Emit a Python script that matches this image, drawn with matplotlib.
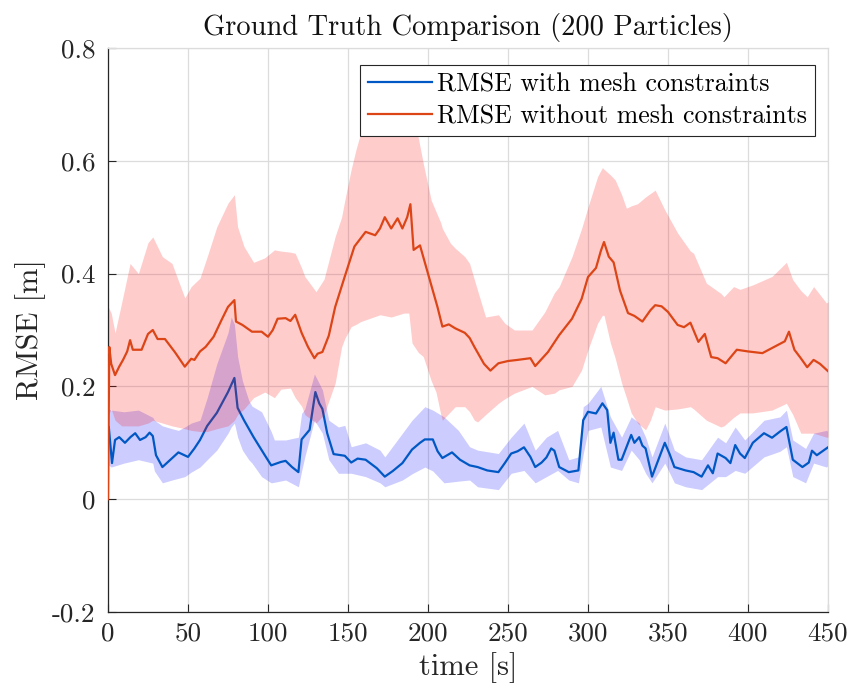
import numpy as np
import matplotlib
matplotlib.use("Agg")
import matplotlib.pyplot as plt

# ---------------- data ----------------
t_red = [0, 0.8, 2, 4.4, 7, 9.4, 12, 13.8, 15.5, 21, 25, 28, 31, 35.6, 42, 48, 52, 54, 57.5,
         61, 66, 71, 75, 79, 80, 84, 90, 96, 100, 103, 106, 111, 114, 117, 121, 125, 129,
         131, 134, 138, 142, 148, 154, 161, 167, 170, 173, 177, 181, 184, 187, 189, 191,
         195, 200, 206, 209, 213, 217, 223, 226, 229, 235, 239, 244, 250, 256, 264, 267,
         275, 282, 290, 296, 300, 305, 308, 310, 313, 316, 320, 325, 329, 334, 339, 342,
         346, 350, 356, 360, 364, 369, 373, 377, 381, 386, 393, 400, 409, 415, 419, 423,
         425.6, 429, 433, 437, 441, 445, 450]
red_mean = [0.0, 0.27, 0.24, 0.22, 0.235, 0.247, 0.262, 0.282, 0.265, 0.265, 0.293, 0.30,
            0.284, 0.284, 0.26, 0.235, 0.249, 0.247, 0.262, 0.27, 0.288, 0.318, 0.341, 0.353,
            0.315, 0.309, 0.297, 0.297, 0.288, 0.30, 0.32, 0.321, 0.316, 0.327, 0.295, 0.27,
            0.25, 0.258, 0.261, 0.29, 0.341, 0.395, 0.448, 0.474, 0.468, 0.48, 0.50, 0.48,
            0.498, 0.48, 0.50, 0.523, 0.442, 0.45, 0.40, 0.34, 0.306, 0.31, 0.303, 0.295,
            0.286, 0.27, 0.24, 0.228, 0.241, 0.245, 0.247, 0.25, 0.236, 0.261, 0.291, 0.32,
            0.355, 0.394, 0.41, 0.44, 0.456, 0.43, 0.42, 0.37, 0.33, 0.325, 0.315, 0.335,
            0.344, 0.342, 0.332, 0.309, 0.305, 0.313, 0.279, 0.293, 0.252, 0.25, 0.241,
            0.265, 0.262, 0.259, 0.268, 0.274, 0.28, 0.297, 0.265, 0.25, 0.234, 0.247,
            0.24, 0.227]

t_red_band = [0.3, 2, 4.4, 8.5, 13.8, 19, 25, 28, 34, 40, 48, 52, 57.5, 62, 68, 75, 79, 81,
              85, 91, 98, 104, 108, 114, 117, 121, 123, 130, 135, 142, 146, 148, 152, 155,
              158, 161, 170, 177, 185, 188, 190, 194, 197, 202, 205, 208, 209, 214, 217,
              223, 226, 229, 231, 236, 244, 248, 254, 265, 273, 279, 282, 290, 296, 300,
              306, 309, 310, 314, 317, 321, 324, 327, 331, 336, 339, 342, 348, 356, 364,
              366, 374, 383, 385, 391, 395, 403, 415, 424, 428, 433, 437, 441, 449, 450]
red_upper = [0.34, 0.33, 0.295, 0.348, 0.418, 0.40, 0.455, 0.465, 0.43, 0.418, 0.357, 0.377,
             0.392, 0.43, 0.483, 0.525, 0.54, 0.483, 0.448, 0.42, 0.428, 0.442, 0.44, 0.438,
             0.436, 0.41, 0.395, 0.368, 0.39, 0.466, 0.50, 0.53, 0.585, 0.62, 0.65, 0.67,
             0.70, 0.70, 0.70, 0.69, 0.68, 0.64, 0.596, 0.53, 0.51, 0.49, 0.48, 0.454, 0.445,
             0.43, 0.418, 0.389, 0.37, 0.323, 0.327, 0.312, 0.30, 0.30, 0.332, 0.366, 0.377,
             0.43, 0.48, 0.518, 0.572, 0.588, 0.585, 0.575, 0.566, 0.54, 0.516, 0.52, 0.524,
             0.536, 0.542, 0.548, 0.513, 0.472, 0.44, 0.436, 0.383, 0.365, 0.359, 0.377,
             0.372, 0.38, 0.395, 0.42, 0.389, 0.37, 0.359, 0.377, 0.348, 0.35]
red_lower = [0.15, 0.16, 0.14, 0.13, 0.13, 0.13, 0.135, 0.14, 0.135, 0.13, 0.125, 0.122,
             0.12, 0.12, 0.125, 0.13, 0.14, 0.15, 0.16, 0.18, 0.19, 0.18, 0.195, 0.197,
             0.18, 0.165, 0.15, 0.135, 0.15, 0.206, 0.27, 0.285, 0.306, 0.31, 0.315, 0.318,
             0.327, 0.323, 0.33, 0.33, 0.277, 0.26, 0.253, 0.21, 0.19, 0.15, 0.14, 0.155,
             0.164, 0.164, 0.155, 0.14, 0.137, 0.15, 0.17, 0.178, 0.188, 0.20, 0.185, 0.188,
             0.194, 0.20, 0.229, 0.265, 0.312, 0.326, 0.326, 0.277, 0.25, 0.206, 0.18, 0.153,
             0.135, 0.123, 0.14, 0.164, 0.158, 0.16, 0.164, 0.16, 0.14, 0.128, 0.13, 0.145,
             0.153, 0.153, 0.158, 0.17, 0.15, 0.117, 0.117, 0.117, 0.11, 0.11]

t_blue = [0.5, 2.5, 4.4, 7, 10.6, 14, 17, 20, 23.5, 26, 28, 30, 34, 39, 44, 50, 54, 57.5,
          62, 68, 75, 79, 81, 85, 91, 98, 102, 108, 111, 115, 119, 121, 126, 129.6, 132,
          134, 137, 141, 148, 152, 156, 161, 168, 173, 178, 184, 190, 195, 198, 203, 206,
          209, 215, 220, 226, 231, 237, 244, 248, 252, 256, 260, 264, 267, 271, 274, 277,
          279, 282, 288, 294, 297, 300, 305, 309, 312, 314, 316, 319, 321, 327, 329, 332,
          334, 336, 340, 344, 348, 351, 354, 361, 366, 371, 375, 378, 381, 386, 389, 392,
          395, 398, 403, 410, 415, 420, 424, 428, 434, 438, 440, 443, 449, 450]
blue_mean = [0.128, 0.064, 0.105, 0.11, 0.10, 0.11, 0.117, 0.105, 0.11, 0.118, 0.112, 0.078,
             0.057, 0.07, 0.083, 0.075, 0.09, 0.105, 0.13, 0.153, 0.19, 0.215, 0.162, 0.14,
             0.11, 0.078, 0.06, 0.066, 0.068, 0.057, 0.048, 0.106, 0.123, 0.19, 0.17, 0.16,
             0.117, 0.08, 0.077, 0.065, 0.072, 0.07, 0.055, 0.04, 0.05, 0.064, 0.088, 0.10,
             0.106, 0.106, 0.085, 0.073, 0.083, 0.07, 0.06, 0.057, 0.051, 0.048, 0.064,
             0.081, 0.085, 0.092, 0.075, 0.057, 0.065, 0.074, 0.09, 0.086, 0.057, 0.048,
             0.051, 0.14, 0.155, 0.152, 0.17, 0.158, 0.10, 0.118, 0.07, 0.07, 0.114, 0.10,
             0.11, 0.095, 0.09, 0.04, 0.07, 0.10, 0.08, 0.057, 0.051, 0.048, 0.04, 0.06,
             0.046, 0.081, 0.073, 0.064, 0.096, 0.081, 0.073, 0.10, 0.117, 0.109, 0.12,
             0.128, 0.07, 0.057, 0.065, 0.086, 0.078, 0.09, 0.092]

t_blue_band = [0.5, 2, 10, 19, 28, 29, 34, 40, 44, 48, 52, 57.5, 62, 68, 75, 77, 79, 81, 84,
               88, 90, 96, 102, 104, 111, 119, 121, 123, 129, 134, 138, 144, 148, 152, 161,
               170, 173, 184, 190, 198, 203, 210, 219, 226, 231, 244, 252, 260, 267, 274,
               281, 288, 294, 297, 300, 308, 314, 321, 327, 332, 336, 340, 348, 354, 361,
               371, 381, 386, 392, 398, 410, 420, 424, 428, 436, 441, 449, 450]
blue_upper = [0.16, 0.158, 0.155, 0.158, 0.145, 0.14, 0.13, 0.125, 0.122, 0.128, 0.135,
              0.14, 0.18, 0.24, 0.295, 0.323, 0.31, 0.253, 0.21, 0.175, 0.165, 0.155, 0.12,
              0.105, 0.105, 0.11, 0.152, 0.16, 0.222, 0.194, 0.14, 0.128, 0.131, 0.093, 0.10,
              0.087, 0.075, 0.117, 0.14, 0.164, 0.158, 0.146, 0.122, 0.093, 0.087, 0.081,
              0.11, 0.135, 0.087, 0.11, 0.122, 0.07, 0.075, 0.164, 0.17, 0.20, 0.146, 0.11,
              0.146, 0.135, 0.11, 0.075, 0.135, 0.087, 0.075, 0.07, 0.11, 0.10, 0.128,
              0.105, 0.14, 0.146, 0.158, 0.105, 0.09, 0.117, 0.122, 0.12]
blue_lower = [0.06, 0.057, 0.064, 0.07, 0.064, 0.05, 0.029, 0.034, 0.037, 0.04, 0.048,
              0.057, 0.07, 0.087, 0.117, 0.128, 0.135, 0.11, 0.087, 0.07, 0.064, 0.04, 0.029,
              0.03, 0.034, 0.022, 0.05, 0.075, 0.14, 0.117, 0.07, 0.046, 0.046, 0.046, 0.04,
              0.029, 0.022, 0.034, 0.045, 0.057, 0.05, 0.029, 0.032, 0.034, 0.022, 0.017,
              0.046, 0.051, 0.029, 0.04, 0.051, 0.034, 0.029, 0.08, 0.122, 0.128, 0.057,
              0.051, 0.087, 0.07, 0.046, 0.029, 0.064, 0.029, 0.022, 0.017, 0.04, 0.04,
              0.051, 0.046, 0.075, 0.085, 0.093, 0.04, 0.029, 0.064, 0.057, 0.06]

x_ticks = [0, 50, 100, 150, 200, 250, 300, 350, 400, 450]
y_ticks = [-0.2, 0, 0.2, 0.4, 0.6, 0.8]
y_tick_labels = ["-0.2", "0", "0.2", "0.4", "0.6", "0.8"]
legend_labels = ["RMSE with mesh constraints", "RMSE without mesh constraints"]
title_text = "Ground Truth Comparison (200 Particles)"
xlabel_text = "time [s]"
ylabel_text = "RMSE [m]"

# ---------------- style ----------------
plt.rcParams["font.family"] = ["cmr10", "DejaVu Serif"]
plt.rcParams["axes.unicode_minus"] = False
FS_TICK = 19.5
FS_TITLE = 20.5
FS_LABEL = 22
FS_LEG = 18.6

blue_line = "#0058c4"
red_line = "#dc4516"

fig = plt.figure(figsize=(8.49, 6.89), dpi=100)
ax = fig.add_axes([108 / 849, 77 / 689, 720 / 849, 564 / 689])

ax.fill_between(t_blue_band, blue_lower, blue_upper, color=(0, 0, 1), alpha=0.2,
                linewidth=0, zorder=2)
lb, = ax.plot(t_blue, blue_mean, color=blue_line, linewidth=1.6, zorder=3)
ax.fill_between(t_red_band, red_lower, red_upper, color=(1, 0, 0), alpha=0.2,
                linewidth=0, zorder=4)
lr, = ax.plot(t_red, red_mean, color=red_line, linewidth=1.6, zorder=5)

ax.set_xlim(0, 450)
ax.set_ylim(-0.2, 0.8)
ax.set_xticks(x_ticks)
ax.set_xticklabels([str(v) for v in x_ticks])
ax.set_yticks(y_ticks)
ax.set_yticklabels(y_tick_labels)
ax.tick_params(direction="in", length=6, width=0.8, labelsize=FS_TICK, colors="#262626",
               top=False, right=False)
ax.tick_params(axis="x", pad=7)
ax.tick_params(axis="y", pad=9)
for lab in ax.get_xticklabels() + ax.get_yticklabels():
    lab.set_color("#262626")

ax.grid(True, color="#dcdcdc", linewidth=0.9, zorder=0)
ax.set_axisbelow(True)
for side in ["left", "bottom"]:
    ax.spines[side].set_color("#262626")
    ax.spines[side].set_linewidth(0.9)
for side in ["top", "right"]:
    ax.spines[side].set_color("#dcdcdc")
    ax.spines[side].set_linewidth(0.9)

ax.set_title(title_text, fontsize=FS_TITLE, pad=9, color="#111111")
ax.set_xlabel(xlabel_text, fontsize=FS_LABEL, labelpad=5, color="#262626")
ax.set_ylabel(ylabel_text, fontsize=FS_LABEL, labelpad=4, color="#262626")

leg = ax.legend([lb, lr], legend_labels, loc="upper right",
                bbox_to_anchor=(0.982, 0.970), borderaxespad=0, fontsize=FS_LEG,
                fancybox=False, framealpha=1, edgecolor="#262626",
                handlelength=2.5, handletextpad=0.2, labelspacing=0.32,
                borderpad=0.3)
leg.get_frame().set_linewidth(0.8)
leg.set_zorder(10)

fig.savefig("out.png", dpi=100)
